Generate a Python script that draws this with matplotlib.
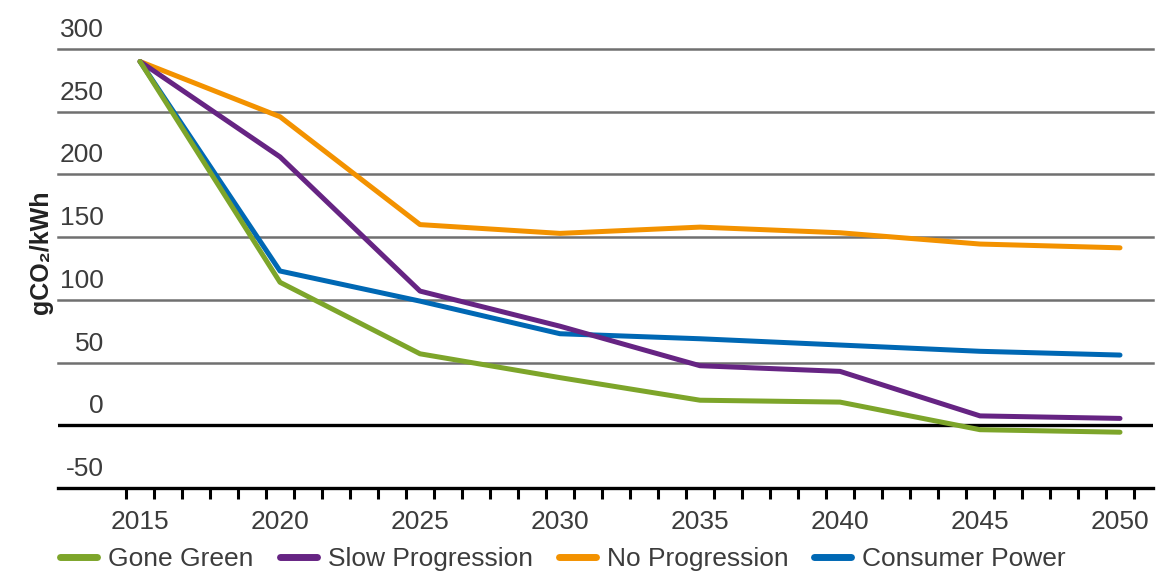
import matplotlib
matplotlib.use('Agg')
import matplotlib.pyplot as plt
from matplotlib.ticker import FixedLocator
import matplotlib.transforms as mtransforms

plt.rcParams['font.family'] = ['Liberation Sans', 'DejaVu Sans']

# data
years = [2015, 2020, 2025, 2030, 2035, 2040, 2045, 2050]
gone_green = [290, 114, 57, 38, 20, 18.5, -3.5, -5.5]
slow_progression = [290, 214, 107, 79, 47.5, 43, 7.5, 5.5]
no_progression = [290, 246, 160, 153, 158, 153.5, 144.5, 141.5]
consumer_power = [290, 123, 99, 73, 69, 64, 59, 56]
y_ticks = [-50, 0, 50, 100, 150, 200, 250, 300]

c_green = '#7da52a'
c_purple = '#662483'
c_orange = '#f39200'
c_blue = '#0068b4'
txt = '#3c3c3c'

fig = plt.figure(figsize=(11.6, 5.73), dpi=100)
ax = fig.add_axes([0.05, 0.1483, 0.944, 0.7662])
ax.set_xlim(2012.07, 2051.18)
ax.set_ylim(-50, 300)

# gridlines
for v in y_ticks[2:]:
    ax.axhline(v, color='#707070', lw=1.8, zorder=1, clip_on=False)
ax.axhline(0, color='black', lw=2.4, zorder=1)

kw = dict(lw=3.6, solid_capstyle='round', solid_joinstyle='round', zorder=3)
ax.plot(years, consumer_power, color=c_blue, label='Consumer Power', **kw)
ax.plot(years, no_progression, color=c_orange, label='No Progression', **kw)
ax.plot(years, slow_progression, color=c_purple, label='Slow Progression', **kw)
ax.plot(years, gone_green, color=c_green, label='Gone Green', **kw)

for s in ['top', 'right', 'left']:
    ax.spines[s].set_visible(False)
ax.spines['bottom'].set_linewidth(2.4)
ax.spines['bottom'].set_color('black')

# y labels sit above the gridlines
ax.set_yticks([])
trans = mtransforms.offset_copy(ax.get_yaxis_transform(), fig=fig, x=0, y=5, units='points')
for v in y_ticks:
    ax.text(0.042, v, str(v), transform=trans, ha='right', va='bottom',
            fontsize=19, color=txt)

# x axis: labels on years, ticks between years
ax.set_xticks(years)
ax.set_xticklabels([str(y) for y in years], fontsize=19, color=txt)
ax.tick_params(axis='x', which='major', length=0, pad=16)
ax.xaxis.set_minor_locator(FixedLocator([y + 0.5 for y in range(2014, 2051)]))
ax.tick_params(axis='x', which='minor', length=8, width=2.2, color='black')

fig.text(0.035, 0.56, 'gCO\u2082/kWh', rotation=90, ha='center', va='center',
         fontsize=18, fontweight='bold', color='#222222')

handles, labels = ax.get_legend_handles_labels()
order = [3, 2, 1, 0]
leg = fig.legend([handles[i] for i in order], [labels[i] for i in order],
                 loc='center left', bbox_to_anchor=(0.043, 0.024), ncol=4,
                 frameon=False, fontsize=19, handlelength=1.4, handletextpad=0.42,
                 columnspacing=0.98, borderaxespad=0)
for t in leg.get_texts():
    t.set_color(txt)
for l in leg.get_lines():
    l.set_linewidth(5)
    l.set_solid_capstyle('round')

fig.savefig('out.png', dpi=100)
